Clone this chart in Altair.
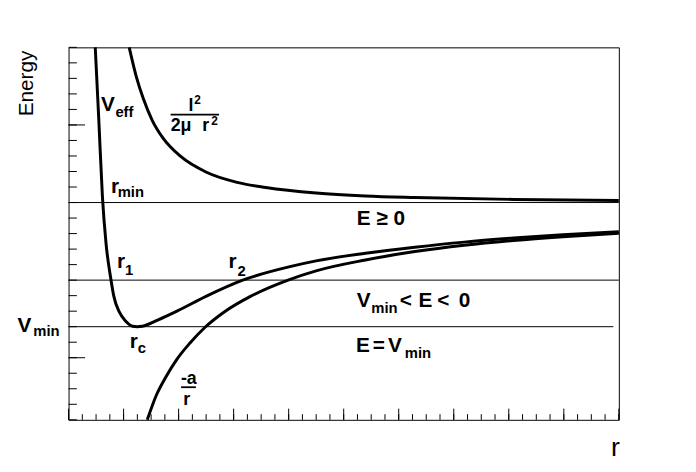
import altair as alt
import pandas as pd

W, H = 557, 377
FONT = "Liberation Sans"

# ---- curves (r, E) ----
veff_r = [0.485, 0.55, 0.615, 0.68, 0.765, 0.82, 0.922, 1.04, 1.16, 1.25, 1.34, 1.63, 1.97,
          2.506, 3.165, 4.062, 4.498, 5.395, 6.292, 7.189, 8.086, 8.983, 10.0]
veff_E = [10.0, 5.3, 0.4, -2.6, -4.85, -6.0, -7.05, -7.65, -7.97, -8.0, -7.97, -7.56, -7.0,
          -6.03, -5.0, -4.1, -3.76, -3.27, -2.88, -2.55, -2.29, -2.07, -1.88]

cent_r = [1.102, 1.232, 1.358, 1.520, 1.717, 2.027, 2.506, 3.062, 3.583, 4.498, 5.395, 6.292, 8.086, 10.0]
cent_E = [10.0, 8.1, 6.7, 5.3, 4.15, 3.0, 1.95, 1.3, 0.97, 0.61, 0.42, 0.32, 0.2, 0.13]

coul_r = [1.430, 1.597, 1.758, 1.968, 2.207, 2.476, 2.829, 3.314, 4.001, 4.498, 5.395, 6.292,
          7.189, 8.086, 8.983, 10.0]
coul_E = [-14.0, -12.4, -11.3, -10.1, -9.05, -8.05, -7.05, -6.03, -4.98, -4.4, -3.7, -3.16,
          -2.75, -2.44, -2.2, -1.98]

# energy levels
levels_E = [0, -5, -8]
levels_r0 = [0, 0, 0]
levels_r1 = [10, 10, 9.9]

# ticks
x_minor = [0, 0.25, 0.5, 0.75, 1, 1.25, 1.5, 1.75, 2, 2.25, 2.5, 2.75, 3, 3.25, 3.5, 3.75, 4,
           4.25, 4.5, 4.75, 5, 5.25, 5.5, 5.75, 6, 6.25, 6.5, 6.75, 7, 7.25, 7.5, 7.75, 8,
           8.25, 8.5, 8.75, 9, 9.25, 9.5, 9.75, 10]
x_major = [0, 1, 2, 3, 4, 5, 6, 7, 8, 9, 10]
y_minor = [-14, -13, -12, -11, -10, -9, -8, -7, -6, -5, -4, -3, -2, -1, 0, 1, 2, 3, 4, 5, 6, 7, 8, 9, 10]
y_major = [-10, 5]

# ---- annotation texts (anchor in data units) ----
main_text = ["V", "r", "r", "r", "r", "V",
             "E \u2265 0", "V", "<", "E", "<", "0", "E", "=", "V"]
main_x = [0.590, 0.771, 0.879, 2.906, 1.112, -0.929,
          5.239, 5.237, 6.020, 6.357, 6.701, 7.090, 5.223, 5.530, 5.804]
main_y = [5.91, 0.585, -4.19, -4.19, -9.40, -8.32,
          -1.45, -6.75, -6.75, -6.75, -6.75, -6.75, -9.66, -9.66, -9.66]

frac_text = ["l", "2\u03bc", "r", "-a", "r"]
frac_x = [2.178, 1.855, 2.428, 2.042, 2.085]
frac_y = [5.91, 4.59, 4.59, -11.69, -13.07]

sub_text = ["eff", "min", "1", "2", "c", "min", "min", "min"]
sub_x = [0.851, 0.892, 1.026, 3.071, 1.259, -0.642, 5.502, 6.110]
sub_y = [5.48, 0.33, -4.69, -4.76, -9.72, -8.58, -7.14, -10.04]

sup_text = ["2", "2"]
sup_x = [2.282, 2.591]
sup_y = [6.33, 4.97]

bar_x0 = [1.855, 2.045]
bar_x1 = [2.734, 2.314]
bar_y = [5.66, -11.90]

# ---- tables ----
curves = pd.concat([
    pd.DataFrame({"r": veff_r, "E": veff_E, "curve": "Veff"}),
    pd.DataFrame({"r": cent_r, "E": cent_E, "curve": "cent"}),
    pd.DataFrame({"r": coul_r, "E": coul_E, "curve": "coul"}),
])
levels = pd.DataFrame({"r0": levels_r0, "r1": levels_r1, "E": levels_E})
main_df = pd.DataFrame({"text": main_text, "x": main_x, "y": main_y})
frac_df = pd.DataFrame({"text": frac_text, "x": frac_x, "y": frac_y})
sub_df = pd.DataFrame({"text": sub_text, "x": sub_x, "y": sub_y})
sup_df = pd.DataFrame({"text": sup_text, "x": sup_x, "y": sup_y})
bars_df = pd.DataFrame({"x0": bar_x0, "x1": bar_x1, "y": bar_y})

XS = alt.Scale(domain=[0, 10], nice=False, zero=False)
YS = alt.Scale(domain=[-14, 10], nice=False, zero=False)


def X(f):
    return alt.X(f, type="quantitative", scale=XS, axis=None)


def Y(f):
    return alt.Y(f, type="quantitative", scale=YS, axis=None)


curve_layer = alt.Chart(curves).mark_line(
    color="black", strokeWidth=3, interpolate="monotone", strokeJoin="round"
).encode(x=X("r"), y=Y("E"), detail="curve:N")

level_layer = alt.Chart(levels).mark_rule(color="black", strokeWidth=1).encode(
    x=X("r0"), x2="r1", y=Y("E"))

xt_minor = alt.Chart(pd.DataFrame({"t": x_minor})).mark_rule(color="black", strokeWidth=1).encode(
    x=X("t"), y=alt.value(H), y2=alt.value(H - 5.7))
xt_major = alt.Chart(pd.DataFrame({"t": x_major})).mark_rule(color="black", strokeWidth=1).encode(
    x=X("t"), y=alt.value(H), y2=alt.value(H - 11.3))
yt_minor = alt.Chart(pd.DataFrame({"t": y_minor})).mark_rule(color="black", strokeWidth=1).encode(
    y=Y("t"), x=alt.value(0), x2=alt.value(8.4))
yt_major = alt.Chart(pd.DataFrame({"t": y_major})).mark_rule(color="black", strokeWidth=1).encode(
    y=Y("t"), x=alt.value(0), x2=alt.value(16.7))


def text_layer(df, size):
    return alt.Chart(df).mark_text(
        align="left", baseline="alphabetic", font=FONT, fontSize=size,
        fontWeight="bold", color="black"
    ).encode(x=X("x"), y=Y("y"), text="text:N")


bars_layer = alt.Chart(bars_df).mark_rule(color="black", strokeWidth=1.8).encode(
    x=X("x0"), x2="x1", y=Y("y"))

ytitle = alt.Chart(alt.Data(values=[{"t": "Energy"}])).mark_text(
    angle=270, align="right", baseline="alphabetic", font=FONT, fontSize=21, color="black"
).encode(x=alt.value(-36.3), y=alt.value(3.3), text="t:N")

xtitle = alt.Chart(alt.Data(values=[{"t": "r"}])).mark_text(
    align="right", baseline="alphabetic", font=FONT, fontSize=27, color="black"
).encode(x=alt.value(W + 1), y=alt.value(413.3), text="t:N")

chart = alt.layer(
    level_layer, xt_minor, xt_major, yt_minor, yt_major, curve_layer,
    text_layer(main_df, 21), text_layer(frac_df, 18), text_layer(sub_df, 15),
    text_layer(sup_df, 12), bars_layer, ytitle, xtitle,
).properties(
    width=W, height=H,
    autosize=alt.AutoSizeParams(type="none"),
    padding={"left": 61.3, "top": 37, "right": 70, "bottom": 50},
    background="white",
).configure_view(stroke="black", strokeWidth=1)

chart.save("out.html", embed_options={"renderer": "svg", "actions": False})
